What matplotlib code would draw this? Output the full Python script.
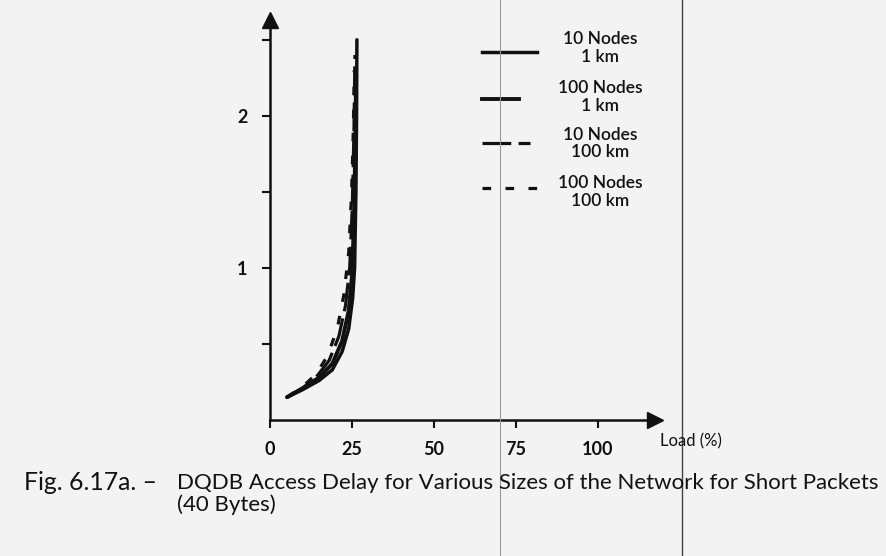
import matplotlib
matplotlib.use("Agg")
import matplotlib.pyplot as plt
from matplotlib.lines import Line2D

# ---- data (load %, access delay) ----
load_10n_1km = [5.2, 10, 15, 19, 22, 24, 25.2, 25.8, 26.2, 26.4, 26.5]
delay_10n_1km = [0.15, 0.20, 0.26, 0.33, 0.45, 0.60, 0.80, 1.00, 1.50, 2.00, 2.50]

load_100n_1km = [5.2, 10, 15, 19, 22, 24, 25.0, 25.6, 26.0, 26.2]
delay_100n_1km = [0.15, 0.21, 0.28, 0.37, 0.52, 0.72, 0.95, 1.30, 1.80, 2.20]

load_10n_100km = [5.2, 10, 14, 18, 21, 23, 24.3, 25.1, 25.6, 25.9]
delay_10n_100km = [0.15, 0.21, 0.28, 0.39, 0.55, 0.75, 1.00, 1.40, 1.90, 2.40]

load_100n_100km = [5.2, 10, 14, 17.5, 20.5, 22.5, 24.0, 24.9, 25.4, 25.7]
delay_100n_100km = [0.15, 0.22, 0.30, 0.42, 0.60, 0.82, 1.10, 1.50, 1.90, 2.30]

series_labels = ["10 Nodes\n1 km", "100 Nodes\n1 km", "10 Nodes\n100 km", "100 Nodes\n100 km"]
xticks = [0, 25, 50, 75, 100]
yticks_major = [1, 2]
yticks_minor = [0.5, 1.5, 2.5]

ink = "#111111"
bg = "#f3f3f3"
font = ["Lato", "DejaVu Sans"]
plt.rcParams["font.family"] = font

fig = plt.figure(figsize=(8.86, 5.56), dpi=100, facecolor=bg)
ax = fig.add_axes([270 / 886, 1 - 420 / 556, (655 - 270) / 886, (420 - 20) / 556])
ax.set_facecolor("none")
ax.set_xlim(0, 117.4)
ax.set_ylim(0, 2.63)

styles = [
    dict(ls="-", lw=2.5),
    dict(ls="-", lw=2.8),
    dict(ls=(0, (9, 2.3)), lw=2.3),
    dict(ls=(0, (2.7, 4.5)), lw=2.3),
]
data = [(load_10n_1km, delay_10n_1km), (load_100n_1km, delay_100n_1km),
        (load_10n_100km, delay_10n_100km), (load_100n_100km, delay_100n_100km)]
for (x, y), st in zip(data, styles):
    ax.plot(x, y, color=ink, solid_capstyle="round", **st)

for s in ["top", "right"]:
    ax.spines[s].set_visible(False)
for s in ["left", "bottom"]:
    ax.spines[s].set_color(ink)
    ax.spines[s].set_linewidth(1.8)
# arrow heads
ax.plot(1, 0, ">", transform=ax.transAxes, color=ink, ms=11, clip_on=False)
ax.plot(0, 1, "^", transform=ax.transAxes, color=ink, ms=11, clip_on=False)

ax.set_xticks(xticks)
ax.set_xticklabels([str(t) for t in xticks], fontweight="bold")
ax.set_yticks(yticks_major)
ax.set_yticklabels([str(t) for t in yticks_major], fontweight="bold")
ax.set_yticks(yticks_minor, minor=True)
ax.tick_params(axis="both", which="both", direction="out", color=ink, width=1.5,
               labelsize=13, labelcolor=ink)
ax.tick_params(axis="both", which="major", length=6, pad=9)
ax.tick_params(axis="y", which="minor", length=6)
ax.tick_params(axis="y", which="major", pad=10)

fig.text(660 / 886, 1 - 441 / 556, "Load (%)", fontsize=12, color=ink, va="center", ha="left")

# legend drawn manually
leg_y = [52, 99, 143, 188]
leg_x1 = [537, 519, 530, 537]
text_y = [48, 97, 143.5, 192]
for ly, lx1, ty, lab, st in zip(leg_y, leg_x1, text_y, series_labels, styles):
    fig.add_artist(Line2D([482 / 886, lx1 / 886], [1 - ly / 556, 1 - ly / 556],
                          color=ink, **st))
    fig.text(600 / 886, 1 - ty / 556, lab, ha="center", va="center", fontsize=12.5,
             color=ink, linespacing=1.15, fontweight="semibold")

# caption
fig.text(24 / 886, 1 - 483 / 556, "Fig. 6.17a. \u2013", fontsize=17.8, color=ink, va="center")
fig.text(177 / 886, 1 - 483 / 556,
         "DQDB Access Delay for Various Sizes of the Network for Short Packets",
         fontsize=16, color=ink, va="center")
fig.text(177 / 886, 1 - 505 / 556, "(40 Bytes)", fontsize=16, color=ink, va="center")

# scan artefacts: faint vertical page lines
for xp, c, w in [(500, "#999999", 0.8), (682, "#444444", 1.0)]:
    fig.add_artist(Line2D([xp / 886, xp / 886], [0, 1], color=c, lw=w))

fig.savefig("out.png", dpi=100, facecolor=bg)
